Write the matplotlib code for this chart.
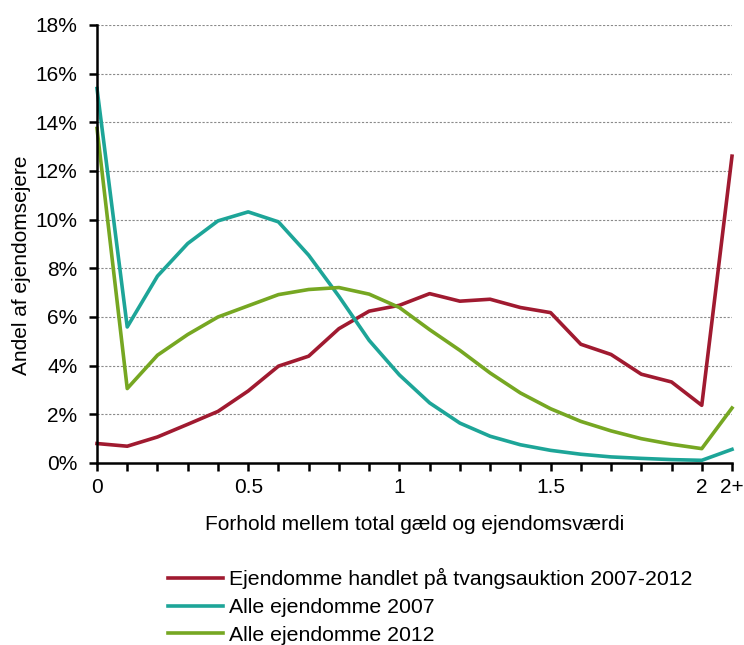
import numpy as np
from matplotlib import pyplot as plt

# Andel af ejendomsejere (%) pr. interval af gæld/ejendomsværdi, 0 - 2 i trin på 0.1 samt 2+
tick_labels = ["0", "0.5", "1", "1.5", "2", "2+"]
tick_values = [0, 0.5, 1.0, 1.5, 2.0, 2.1]

tvang = [0.80, 0.69, 1.07, 1.59, 2.12, 2.96, 3.98, 4.39, 5.52, 6.24, 6.48,
         6.96, 6.65, 6.73, 6.39, 6.18, 4.88, 4.46, 3.65, 3.33, 2.37, 12.61]
alle_2007 = [15.39, 5.59, 7.68, 9.02, 9.95, 10.32, 9.91, 8.54, 6.85, 5.04, 3.62,
             2.47, 1.64, 1.10, 0.75, 0.52, 0.36, 0.25, 0.19, 0.14, 0.11, 0.56]
alle_2012 = [13.75, 3.06, 4.43, 5.28, 6.00, 6.46, 6.92, 7.13, 7.21, 6.94, 6.39,
             5.48, 4.63, 3.70, 2.88, 2.23, 1.71, 1.32, 1.00, 0.77, 0.59, 2.26]

labels = ["Ejendomme handlet på tvangsauktion 2007-2012",
          "Alle ejendomme 2007",
          "Alle ejendomme 2012"]
farver = ["#A01A30", "#1DA598", "#76A722"]

plt.rcParams['font.family'] = ['Liberation Sans', 'DejaVu Sans']
plt.rcParams['font.size'] = 15

x = np.arange(len(tvang)) * 0.1

fig = plt.figure(figsize=(7.44, 6.45), dpi=100)
ax = fig.add_axes([97 / 744, 1 - 463 / 645, 635 / 744, 438 / 645])

for serie, farve, navn in zip([tvang, alle_2007, alle_2012], farver, labels):
    ax.plot(x, serie, color=farve, linewidth=2.6, label=navn, clip_on=False, zorder=3)

ax.set_xlim(0, 2.1)
ax.set_ylim(0, 18)

# gitterlinjer
ax.set_yticks(np.arange(0, 19, 2))
ax.set_yticklabels([f"{v}%" for v in range(0, 19, 2)])
for v in range(2, 19, 2):
    ax.axhline(v, color="#8a8a8a", linewidth=0.8, linestyle=(0, (2, 1.5)), zorder=1)

ax.set_xticks(x)
ax.set_xticklabels([tick_labels[tick_values.index(round(v, 1))] if round(v, 1) in tick_values else ""
                    for v in x])

for side in ["top", "right"]:
    ax.spines[side].set_visible(False)
for side in ["left", "bottom"]:
    ax.spines[side].set_linewidth(1.8)
    ax.spines[side].set_zorder(4)
ax.tick_params(axis="both", direction="out", width=1.8, length=6)
ax.tick_params(axis="x", pad=5)
ax.tick_params(axis="y", pad=8)

ax.set_xlabel("Forhold mellem total gæld og ejendomsværdi", labelpad=13)
ax.set_ylabel("Andel af ejendomsejere")
ax.yaxis.set_label_coords(-0.104, 0.452)

fig.legend(loc="upper left", bbox_to_anchor=(168 / 744, 1 - 568 / 645), frameon=False,
           borderpad=0, borderaxespad=0, handlelength=2.6, handletextpad=0.25,
           labelspacing=0.42, fontsize=15.3)

plt.savefig("out.png", dpi=100)
